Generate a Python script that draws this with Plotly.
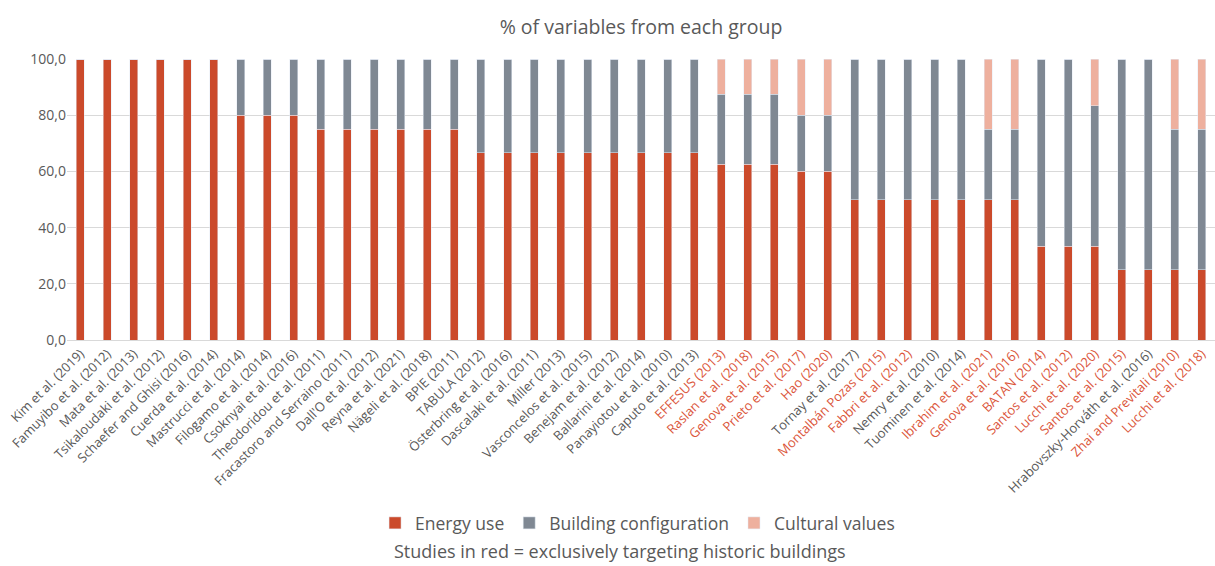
import plotly.graph_objects as go

# Studies and whether they target historic buildings exclusively
studies = [
    "Kim et al. (2019)", "Famuyibo et al. (2012)", "Mata et al. (2013)",
    "Tsikaloudaki et al. (2012)", "Schaefer and Ghisi (2016)", "Cuerda et al. (2014)",
    "Mastrucci et al. (2014)", "Filogamo et al. (2014)", "Csoknyai et al. (2016)",
    "Theodoridou et al. (2011)", "Fracastoro and Serraino (2011)", "Dall'O et al. (2012)",
    "Reyna et al. (2021)", "Nägeli et al. (2018)", "BPIE (2011)", "TABULA (2012)",
    "Österbring et al. (2016)", "Dascalaki et al. (2011)", "Miller (2013)",
    "Vasconcelos et al. (2015)", "Benejam et al. (2012)", "Ballarini et al. (2014)",
    "Panayiotou et al. (2010)", "Caputo et al. (2013)", "EFFESUS (2013)",
    "Raslan et al. (2018)", "Genova et al. (2015)", "Prieto et al. (2017)",
    "Hao (2020)", "Tornay et al. (2017)", "Montalbán Pozas (2015)",
    "Fabbri et al. (2012)", "Nemry et al. (2010)", "Tuominen et al. (2014)",
    "Ibrahim et al. (2021)", "Genova et al. (2016)", "BATAN (2014)",
    "Santos et al. (2012)", "Lucchi et al. (2020)", "Santos et al. (2015)",
    "Hrabovszky-Horváth et al. (2016)", "Zhai and Previtali (2010)", "Lucchi et al. (2018)",
]
historic = [
    False, False, False, False, False, False, False, False, False, False, False, False,
    False, False, False, False, False, False, False, False, False, False, False, False,
    True, True, True, True, True, False, True, True, False, False, True, True,
    True, True, True, True, False, True, True,
]

energy_use = [
    100, 100, 100, 100, 100, 100, 80, 80, 80, 75, 75, 75, 75, 75, 75,
    66.7, 66.7, 66.7, 66.7, 66.7, 66.7, 66.7, 66.7, 66.7,
    62.5, 62.5, 62.5, 60, 60, 50, 50, 50, 50, 50, 50, 50,
    33.3, 33.3, 33.3, 25, 25, 25, 25,
]
building_config = [
    0, 0, 0, 0, 0, 0, 20, 20, 20, 25, 25, 25, 25, 25, 25,
    33.3, 33.3, 33.3, 33.3, 33.3, 33.3, 33.3, 33.3, 33.3,
    25, 25, 25, 20, 20, 50, 50, 50, 50, 50, 25, 25,
    66.7, 66.7, 50, 75, 75, 50, 50,
]
cultural_values = [
    0, 0, 0, 0, 0, 0, 0, 0, 0, 0, 0, 0, 0, 0, 0,
    0, 0, 0, 0, 0, 0, 0, 0, 0,
    12.5, 12.5, 12.5, 20, 20, 0, 0, 0, 0, 0, 25, 25,
    0, 0, 16.7, 0, 0, 25, 25,
]

RED = "#CB4A2B"
GREY = "#7F8893"
PINK = "#EEB09E"
TEXT = "#595959"
FONT = "Open Sans"

tick_text = [
    f"<span style='color:#DB563B'>{s}</span>" if h else s
    for s, h in zip(studies, historic)
]

fig = go.Figure()
fig.add_bar(x=studies, y=energy_use, name="Energy use", marker_color=RED)
fig.add_bar(x=studies, y=building_config, name="Building configuration", marker_color=GREY)
fig.add_bar(x=studies, y=cultural_values, name="Cultural values", marker_color=PINK)

fig.update_layout(
    width=1215, height=566,
    barmode="stack", bargap=0.7,
    separators=",.",
    margin=dict(l=67, r=0, t=59, b=226),
    paper_bgcolor="white", plot_bgcolor="white",
    font=dict(family=FONT, color=TEXT),
    title=dict(text="% of variables from each group", x=0.5, xref="paper",
               y=1 - 27 / 566, yanchor="middle",
               font=dict(size=19.5, color=TEXT, family=FONT)),
    legend=dict(orientation="h", x=0.497, xanchor="center",
                yref="container", y=1 - 523 / 566, yanchor="middle",
                font=dict(size=17.5, color=TEXT, family=FONT),
                itemwidth=30, traceorder="normal"),
    annotations=[dict(
        text="Studies in red = exclusively targeting historic buildings",
        xref="paper", x=0.482, xanchor="center",
        yref="paper", y=(340 - 551) / 281, yanchor="middle",
        showarrow=False, font=dict(size=18, color=TEXT, family=FONT),
    )],
)
fig.update_xaxes(
    tickmode="array", tickvals=studies, ticktext=tick_text,
    tickangle=-45, tickfont=dict(size=13, color=TEXT, family=FONT),
    showgrid=False, showline=True, linecolor="#D9D9D9", linewidth=1,
    ticks="",
)
fig.update_yaxes(
    range=[0, 100], tickvals=[0, 20, 40, 60, 80, 100], tickformat=".1f",
    tickfont=dict(size=14, color=TEXT, family=FONT),
    showgrid=True, gridcolor="#D9D9D9", gridwidth=1, zeroline=False,
    showline=False, ticks="",
)

fig.write_html("out.html")
